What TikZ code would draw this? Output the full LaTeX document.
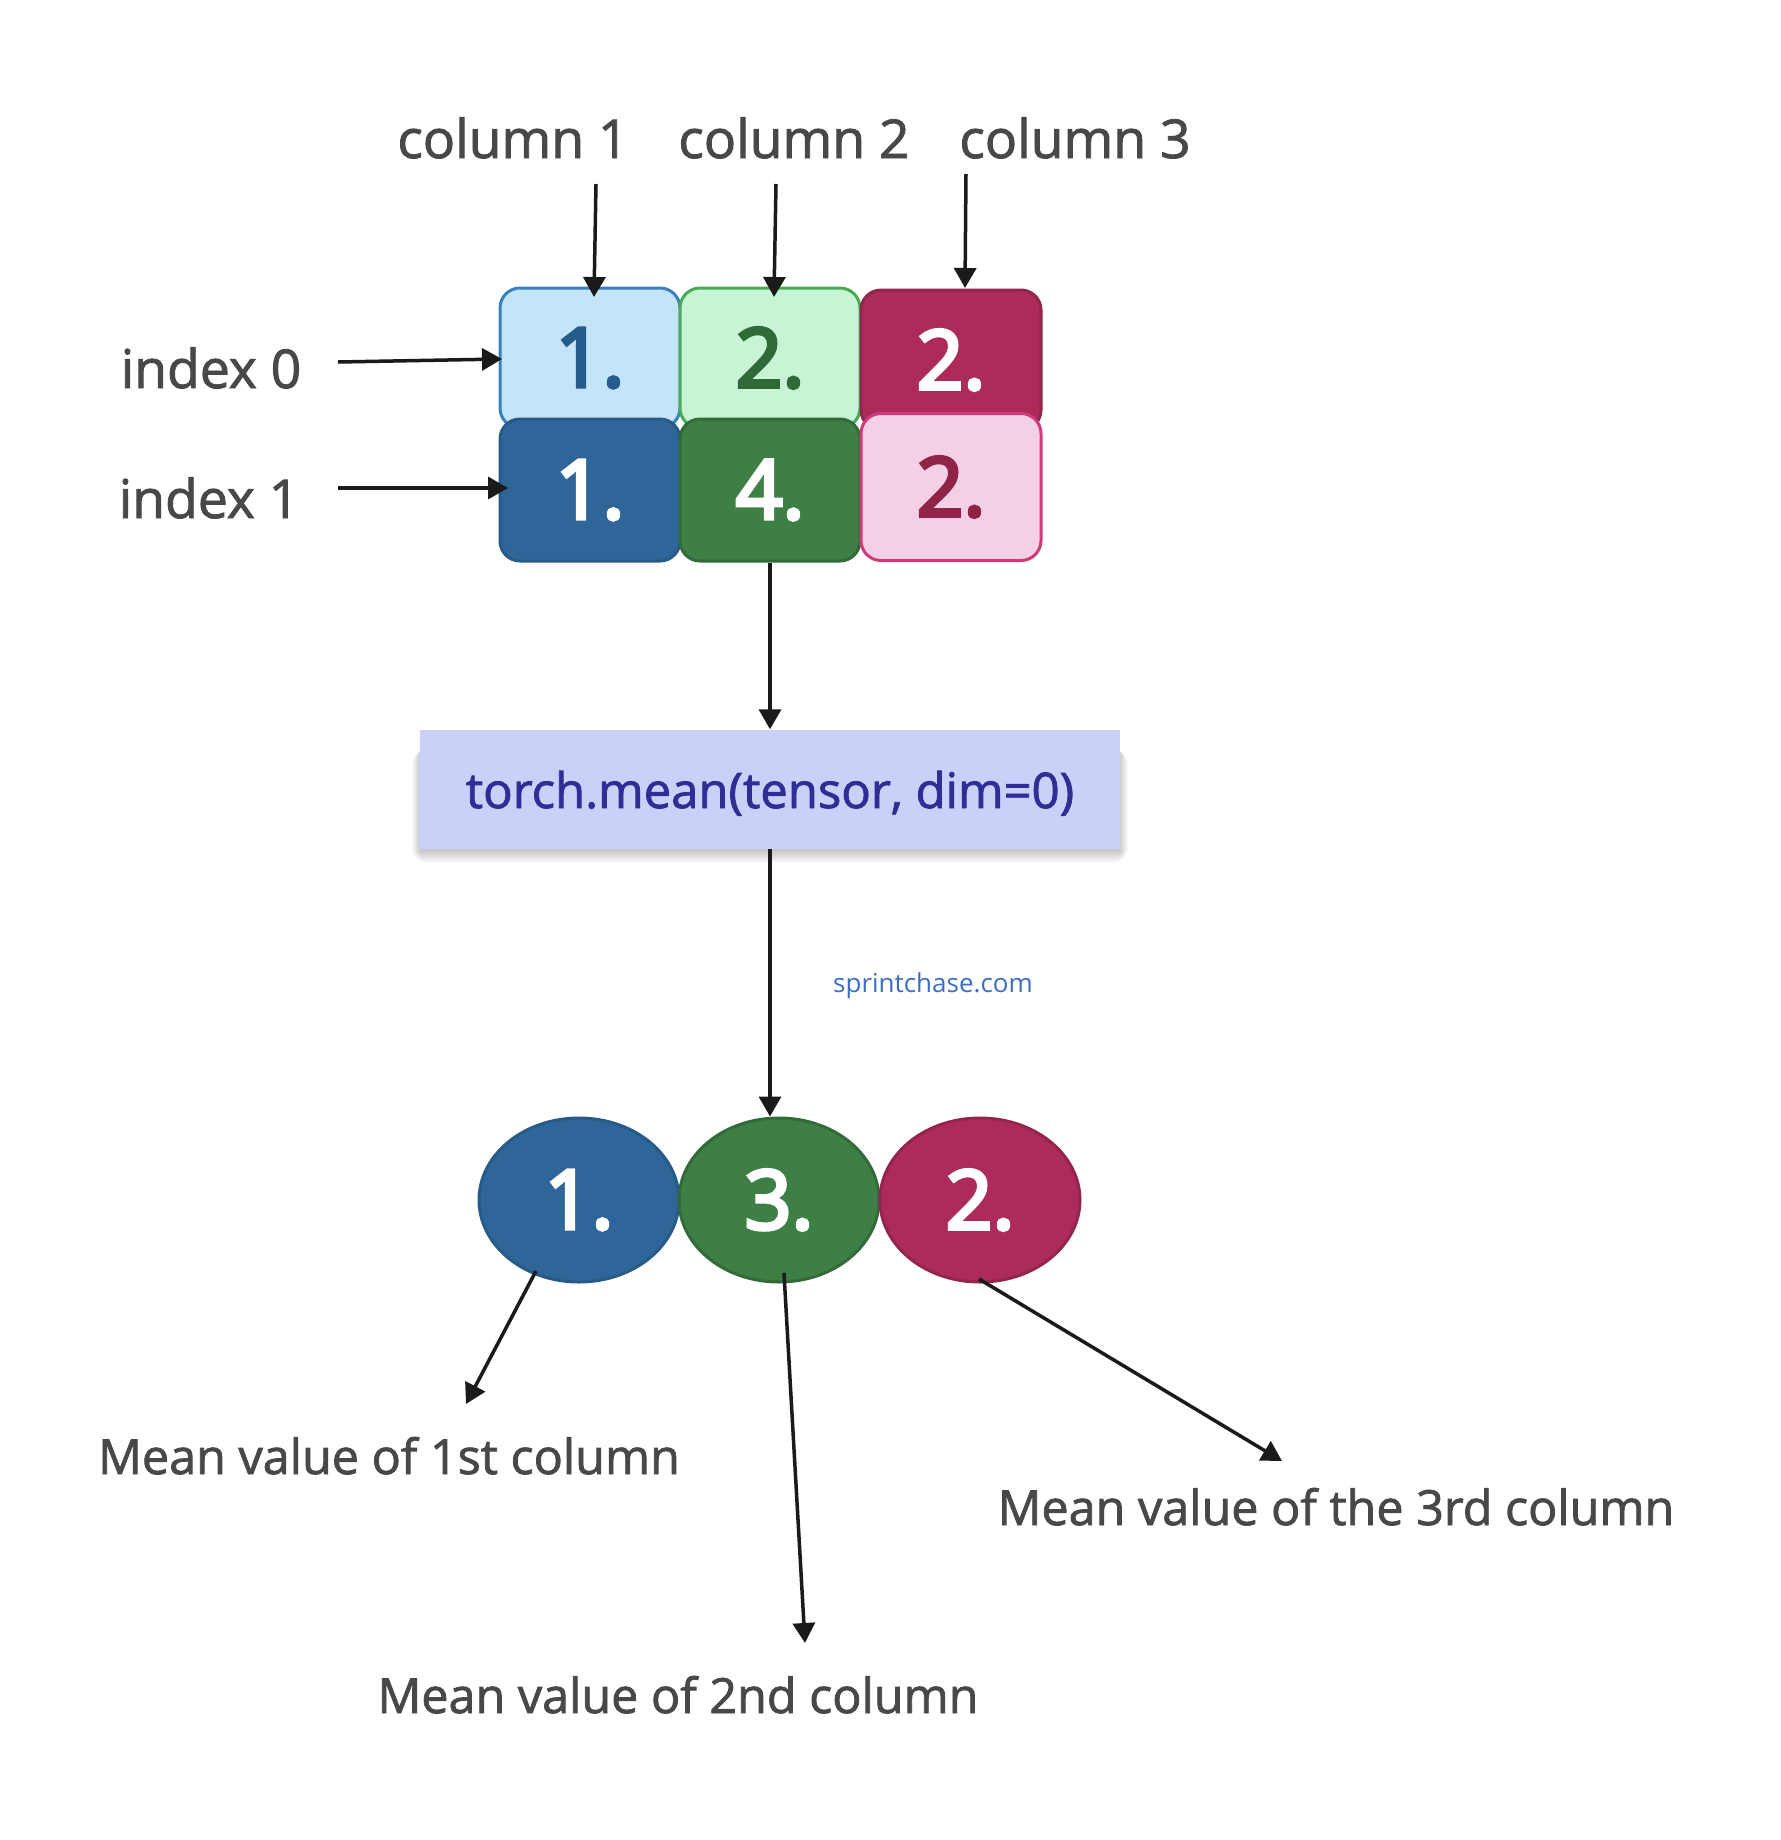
\documentclass[tikz,border=0pt]{standalone}
\usepackage{fontspec}
\setmainfont{Open Sans}
\newfontfamily\labfont{Open Sans}[FakeBold=1.6]
\newfontfamily\digfont{Open Sans}[FakeBold=4.5]
\usetikzlibrary{arrows.meta,shapes.geometric}
\definecolor{lbfill}{HTML}{C4E5F8}
\definecolor{lbdraw}{HTML}{3A80C0}
\definecolor{lbtext}{HTML}{255C8C}
\definecolor{lgfill}{HTML}{C6F4D4}
\definecolor{lgdraw}{HTML}{4CAA56}
\definecolor{lgtext}{HTML}{2F6A38}
\definecolor{mgfill}{HTML}{AD2B5A}
\definecolor{mgdraw}{HTML}{93254D}
\definecolor{dbfill}{HTML}{2E6699}
\definecolor{dbdraw}{HTML}{285A88}
\definecolor{dgfill}{HTML}{3E7F45}
\definecolor{dgdraw}{HTML}{326A39}
\definecolor{pkfill}{HTML}{F4D0E6}
\definecolor{pkdraw}{HTML}{D03A78}
\definecolor{pktext}{HTML}{8F2348}
\definecolor{labtext}{HTML}{484848}
\definecolor{torchfill}{HTML}{C9D1F9}
\definecolor{torchtext}{HTML}{2E2E96}
\definecolor{webtext}{HTML}{3A6FC4}
\definecolor{arrcol}{HTML}{1A1A1A}
\tikzset{
  cell/.style={rectangle, rounded corners=20pt, line width=3pt, minimum width=180pt,
    minimum height=140pt, inner sep=0pt, font=\fontsize{82}{90}\selectfont\digfont},
  oval/.style={ellipse, line width=3pt, minimum width=200pt, minimum height=164pt,
    inner sep=0pt, text=white, font=\fontsize{82}{90}\selectfont\digfont},
  lab/.style={inner sep=0pt, anchor=base, text=labtext, font=\fontsize{53.5}{62}\selectfont\labfont},
  mlab/.style={inner sep=0pt, anchor=base, text=labtext, font=\fontsize{48.5}{58}\selectfont\labfont},
  arr/.style={draw=arrcol, line width=3.5pt, -{Triangle[length=20pt,width=22pt]}},
}
\begin{document}
\begin{tikzpicture}[x=1pt,y=-1pt]
\fill[white] (0,0) rectangle (1781,1840);
\useasboundingbox (0,0) rectangle (1781,1840);

% labels
\node[lab] (col1) at (513,158) {column 1};
\node[lab] (col2) at (794,158) {column 2};
\node[lab] (col3) at (1075,158) {column 3};
\node[lab] (idx0) at (211,388) {index 0};
\node[lab] (idx1) at (209,518) {index 1};

% tensor cells
\node[cell, fill=lbfill, draw=lbdraw, text=lbtext] (b1) at (590,358) {1.};
\node[cell, fill=lgfill, draw=lgdraw, text=lgtext] (b2) at (770,358) {2.};
\node[cell, fill=mgfill, draw=mgdraw, text=white] (b3) at (951,360) {2.};
\node[cell, fill=dbfill, draw=dbdraw, text=white, minimum height=142pt] (b4) at (590,490) {1.};
\node[cell, fill=dgfill, draw=dgdraw, text=white, minimum height=142pt] (b5) at (770,490) {4.};
\node[cell, fill=pkfill, draw=pkdraw, text=pktext, minimum height=147pt] (b6) at (951,487) {2.};

% soft shadow of the function box
\foreach \k in {0,2,...,16} {
  \fill[black, opacity=0.022, rounded corners=\k pt] (420-\k*0.5,750) rectangle (1120+\k*0.5,852+\k*0.7);
}
% function box
\node[rectangle, fill=torchfill, minimum width=700pt, minimum height=119pt, inner sep=0pt] (torch) at (770,789) {};
\node[inner sep=0pt, anchor=base, text=torchtext, font=\fontsize{49}{58}\selectfont\labfont] (torchtxt) at (770,808) {torch.mean(tensor, dim=0)};

\node[inner sep=0pt, anchor=base, text=webtext, font=\fontsize{26}{32}\selectfont] (web) at (933,992) {sprintchase.com};

% result ovals
\node[oval, fill=dbfill, draw=dbdraw] (e1) at (579,1200) {1.};
\node[oval, fill=dgfill, draw=dgdraw] (e2) at (779,1200) {3.};
\node[oval, fill=mgfill, draw=mgdraw] (e3) at (980,1200) {2.};

% result labels
\node[mlab] (m1) at (389,1474) {Mean value of 1st column};
\node[mlab] (m2) at (678,1713) {Mean value of 2nd column};
\node[mlab] (m3) at (1336,1525) {Mean value of the 3rd column};

% connector ends
\coordinate (c1s) at (596,184); \coordinate (c1e) at (594,297);
\coordinate (c2s) at (776,184); \coordinate (c2e) at (774,297);
\coordinate (c3s) at (966,174); \coordinate (c3e) at (965,288);
\coordinate (i0s) at (338,362); \coordinate (i0e) at (502,359);
\coordinate (i1s) at (338,488); \coordinate (i1e) at (508,488);
\coordinate (e1s) at (536,1271); \coordinate (m1e) at (466,1404);
\coordinate (e2s) at (784,1273); \coordinate (m2e) at (805,1643);
\coordinate (e3s) at (979,1279); \coordinate (m3e) at (1282,1461);

\draw[arr] (c1s) -- (c1e);
\draw[arr] (c2s) -- (c2e);
\draw[arr] (c3s) -- (c3e);
\draw[arr] (i0s) -- (i0e);
\draw[arr] (i1s) -- (i1e);
\draw[arr] (b5.south) -- (b5.south |- torch.north);
\draw[arr] (torch.south) -- (torch.south |- e2.north);
\draw[arr] (e1s) -- (m1e);
\draw[arr] (e2s) -- (m2e);
\draw[arr] (e3s) -- (m3e);
\end{tikzpicture}
\end{document}
